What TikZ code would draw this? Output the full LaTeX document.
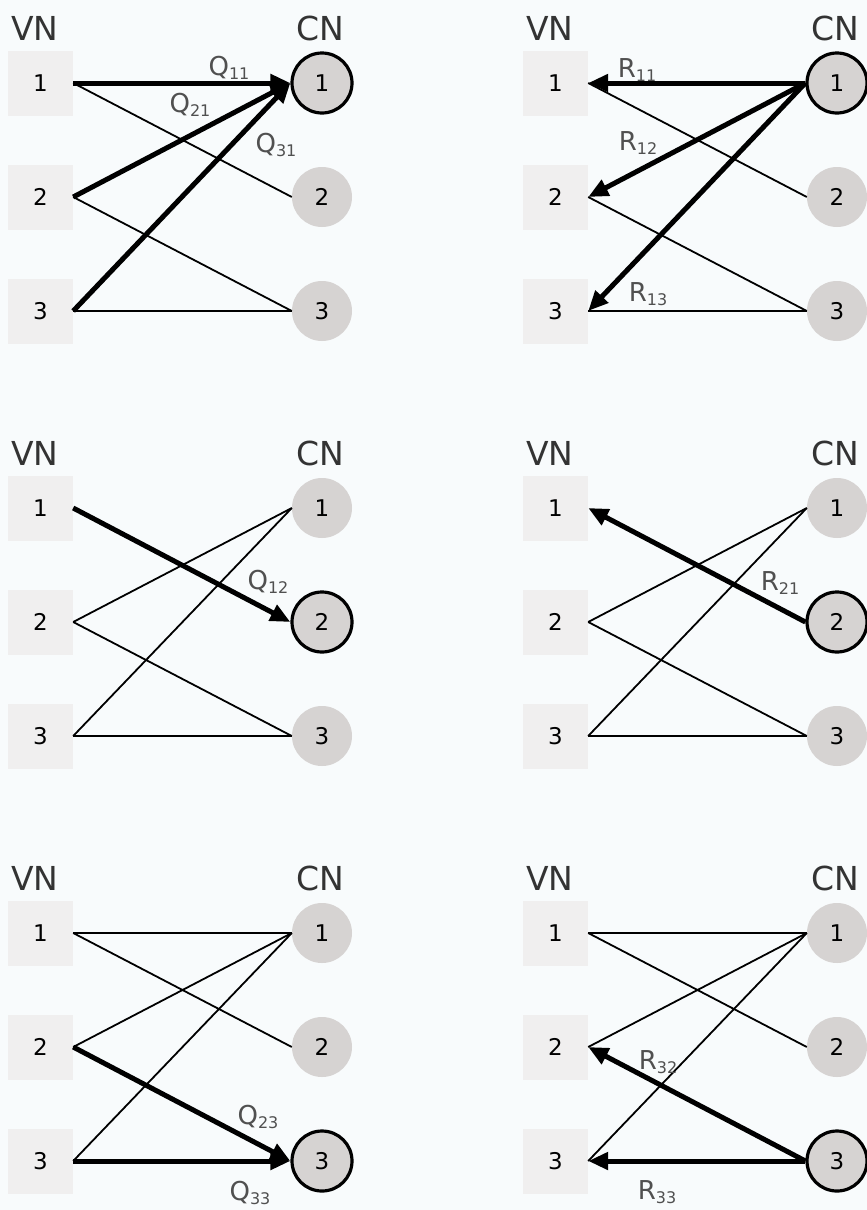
\documentclass[tikz,border=0pt]{standalone}
\usepackage{fontspec}
\setmainfont{DejaVu Sans}
\usetikzlibrary{arrows.meta}
\definecolor{bg}{HTML}{F8FBFC}
\definecolor{sqfill}{HTML}{F0EFEF}
\definecolor{cnfill}{HTML}{D6D3D2}
\definecolor{labgray}{HTML}{505050}
\definecolor{headgray}{HTML}{333333}
\newcommand\lbl[2]{#1\raisebox{-3.5pt}{\fontsize{16}{16}\selectfont #2}}
\tikzset{
  vnode/.style={rectangle, fill=sqfill, minimum size=65pt, inner sep=0pt, font=\fontsize{23}{23}\selectfont},
  cnode/.style={circle, fill=cnfill, minimum size=60pt, inner sep=0pt, font=\fontsize{23}{23}\selectfont},
  hl/.style={draw=black, line width=3.2pt},
  thinedge/.style={line width=1.8pt},
  msg/.style={line width=5pt, -{Triangle[length=20pt,width=17pt]}},
  head/.style={font=\fontsize{33}{33}\selectfont, text=headgray},
  lab/.style={font=\fontsize{26}{26}\selectfont, text=labgray, inner sep=0pt},
}
\newcommand\mkpanel[6]{%
  \begin{scope}[shift={(#2,#3)}]
    \node[head] (#1VN) at (35,28) {VN};
    \node[head] (#1CN) at (320,28) {CN};
    \node[vnode] (#1v1) at (40.5,83) {1};
    \node[vnode] (#1v2) at (40.5,197) {2};
    \node[vnode] (#1v3) at (40.5,311) {3};
    \node[cnode,#4] (#1c1) at (322,83) {1};
    \node[cnode,#5] (#1c2) at (322,197) {2};
    \node[cnode,#6] (#1c3) at (322,311) {3};
  \end{scope}}
\begin{document}
\begin{tikzpicture}[x=1pt,y=-1pt]
\fill[bg] (0,0) rectangle (867,1210);
\useasboundingbox (0,0) rectangle (867,1210);
\mkpanel{a}{0}{0}{hl}{}{}
\mkpanel{b}{515}{0}{hl}{}{}
\mkpanel{c}{0}{425}{}{hl}{}
\mkpanel{d}{515}{425}{}{hl}{}
\mkpanel{e}{0}{850}{}{}{hl}
\mkpanel{f}{515}{850}{}{}{hl}
% panel a
\draw[thinedge] (av1.east) -- (ac2.west);
\draw[thinedge] (av2.east) -- (ac3.west);
\draw[thinedge] (av3.east) -- (ac3.west);
\draw[msg] (av1.east) -- (ac1.west);
\draw[msg] (av2.east) -- (ac1.west);
\draw[msg] (av3.east) -- (ac1.west);
\node[lab] (qa11) at (229,68) {\lbl{Q}{11}};
\node[lab] (qa21) at (190,105) {\lbl{Q}{21}};
\node[lab] (qa31) at (276,145) {\lbl{Q}{31}};
% panel b
\draw[thinedge] (bv1.east) -- (bc2.west);
\draw[thinedge] (bv2.east) -- (bc3.west);
\draw[thinedge] (bv3.east) -- (bc3.west);
\draw[msg] (bc1.west) -- (bv1.east);
\draw[msg] (bc1.west) -- (bv2.east);
\draw[msg] (bc1.west) -- (bv3.east);
\node[lab] (rb11) at (637,70) {\lbl{R}{11}};
\node[lab] (rb12) at (638,143) {\lbl{R}{12}};
\node[lab] (rb13) at (648,294) {\lbl{R}{13}};
% panel c
\draw[thinedge] (cv2.east) -- (cc1.west);
\draw[thinedge] (cv2.east) -- (cc3.west);
\draw[thinedge] (cv3.east) -- (cc1.west);
\draw[thinedge] (cv3.east) -- (cc3.west);
\draw[msg] (cv1.east) -- (cc2.west);
\node[lab] (qc12) at (268,582) {\lbl{Q}{12}};
% panel d
\draw[thinedge] (dv2.east) -- (dc1.west);
\draw[thinedge] (dv2.east) -- (dc3.west);
\draw[thinedge] (dv3.east) -- (dc1.west);
\draw[thinedge] (dv3.east) -- (dc3.west);
\draw[msg] (dc2.west) -- (dv1.east);
\node[lab] (rd21) at (780,583) {\lbl{R}{21}};
% panel e
\draw[thinedge] (ev1.east) -- (ec1.west);
\draw[thinedge] (ev1.east) -- (ec2.west);
\draw[thinedge] (ev2.east) -- (ec1.west);
\draw[thinedge] (ev3.east) -- (ec1.west);
\draw[msg] (ev2.east) -- (ec3.west);
\draw[msg] (ev3.east) -- (ec3.west);
\node[lab] (qe23) at (258,1117) {\lbl{Q}{23}};
\node[lab] (qe33) at (250,1193) {\lbl{Q}{33}};
% panel f
\draw[thinedge] (fv1.east) -- (fc1.west);
\draw[thinedge] (fv1.east) -- (fc2.west);
\draw[thinedge] (fv2.east) -- (fc1.west);
\draw[thinedge] (fv3.east) -- (fc1.west);
\draw[msg] (fc3.west) -- (fv2.east);
\draw[msg] (fc3.west) -- (fv3.east);
\node[lab] (rf32) at (658,1062) {\lbl{R}{32}};
\node[lab] (rf33) at (657,1192) {\lbl{R}{33}};
\end{tikzpicture}
\end{document}
